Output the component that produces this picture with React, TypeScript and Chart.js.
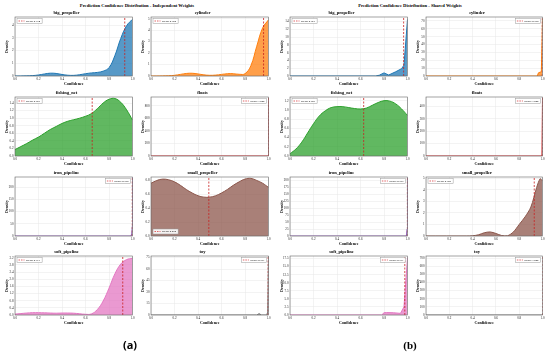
import React, { useEffect, useRef } from "react";
import { Chart, registerables } from "chart.js";

Chart.register(...registerables);

const SERIF = "'Liberation Serif', 'DejaVu Serif', 'Times New Roman', serif";

// ---------- text ----------
const MAIN_TITLES = [
  "Prediction Confidence Distribution - Independent Weights",
  "Prediction Confidence Distribution - Shared Weights",
];
const PANEL_LABELS = ["(a)", "(b)"];
const CLASSES = [
  "big_propeller",
  "cylinder",
  "fishing_net",
  "floats",
  "iron_pipeline",
  "small_propeller",
  "soft_pipeline",
  "toy",
];
const CLASS_COLORS = ["#1f77b4", "#ff7f0e", "#2ca02c", "#d62728", "#9467bd", "#8c564b", "#e377c2", "#7f7f7f"];

// ---------- shared x grid for smooth KDE curves ----------
const X21 = [0, 0.05, 0.1, 0.15, 0.2, 0.25, 0.3, 0.35, 0.4, 0.45, 0.5, 0.55, 0.6, 0.65, 0.7, 0.75, 0.8, 0.85, 0.9, 0.95, 1.0];

// ---------- (a) Independent weights ----------
const indBigPropellerY = [0, 0, 0.01, 0.03, 0.08, 0.16, 0.22, 0.2, 0.12, 0.06, 0.05, 0.1, 0.18, 0.24, 0.28, 0.38, 0.65, 1.6, 2.95, 3.95, 4.45];
const indCylinderY = [0, 0, 0.01, 0.02, 0.06, 0.14, 0.22, 0.24, 0.18, 0.1, 0.06, 0.08, 0.14, 0.2, 0.2, 0.15, 0.2, 0.9, 2.6, 4.2, 4.9];
const indFishingNetY = [0.17, 0.25, 0.33, 0.42, 0.5, 0.6, 0.7, 0.78, 0.86, 0.92, 0.96, 1.0, 1.05, 1.12, 1.25, 1.4, 1.5, 1.52, 1.42, 1.22, 0.95];
const indFloatsX = [0, 0.99, 0.997, 1.0];
const indFloatsY = [0, 0, 5, 930];
const indIronPipelineX = [0, 0.985, 0.993, 0.998, 1.0];
const indIronPipelineY = [0, 0, 8, 40, 240];
const indSmallPropellerY = [0.76, 0.8, 0.82, 0.81, 0.78, 0.73, 0.67, 0.62, 0.58, 0.56, 0.56, 0.58, 0.62, 0.67, 0.73, 0.78, 0.82, 0.83, 0.8, 0.76, 0.7];
const indSoftPipelineY = [0.05, 0.08, 0.11, 0.13, 0.13, 0.12, 0.11, 0.1, 0.11, 0.11, 0.1, 0.07, 0.04, 0.06, 0.3, 0.78, 1.5, 2.3, 2.85, 3.1, 3.17];
const indToyX = [0, 0.9, 0.92, 0.94, 0.985, 0.993, 1.0];
const indToyY = [0, 0, 1.8, 0, 0, 4, 78];
const indMeans = [0.934, 0.958, 0.657, 1.0, 0.998, 0.492, 0.917, 0.997];
const indYMax = [4.63, 5.15, 1.56, 940, 241, 0.85, 3.3, 77];
const indYStep = [1, 1, 0.2, 200, 50, 0.2, 0.4, 15];

// ---------- (b) Shared weights ----------
const shBigPropellerX = [0, 0.73, 0.76, 0.8, 0.84, 0.9, 0.95, 0.97, 1.0];
const shBigPropellerY = [0, 0, 0.2, 0.8, 0.25, 1.1, 1.9, 2.8, 14.6];
const shCylinderX = [0, 0.955, 0.965, 0.99, 1.0];
const shCylinderY = [0, 0, 4, 5.5, 73];
const shFishingNetY = [0.05, 0.15, 0.3, 0.5, 0.7, 0.87, 0.98, 1.05, 1.07, 1.07, 1.05, 1.03, 1.02, 1.04, 1.1, 1.16, 1.2, 1.19, 1.13, 1.02, 0.88];
const shFloatsX = [0, 0.995, 1.0];
const shFloatsY = [0, 0, 470];
const shIronPipelineX = [0, 0.99, 0.996, 1.0];
const shIronPipelineY = [0, 0, 25, 210];
const shSmallPropellerX = [0, 0.35, 0.4, 0.45, 0.5, 0.55, 0.6, 0.65, 0.7, 0.75, 0.8, 0.85, 0.9, 0.95, 0.98, 1.0];
const shSmallPropellerY = [0, 0, 0.02, 0.1, 0.28, 0.35, 0.22, 0.04, 0.02, 0.35, 1.0, 1.65, 2.5, 4.2, 4.95, 4.75];
const shSoftPipelineX = [0, 0.78, 0.8, 0.82, 0.88, 0.94, 0.97, 1.0];
const shSoftPipelineY = [0, 0, 0.7, 0.75, 0.7, 0.5, 2.5, 17.8];
const shToyX = [0, 0.997, 1.0];
const shToyY = [0, 0, 15];
const shMeans = [0.967, 0.998, 0.627, 1.0, 0.999, 0.929, 0.977, 1.0];
const shYMax = [15.2, 75, 1.28, 475, 212, 5.1, 18.3, 725];
const shYStep = [2, 10, 0.2, 100, 25, 1, 2.5, 100];

const CONF_TICK_STEP = 0.2;

type LegendPos = "ul" | "ur" | "ll";
const indLegend: LegendPos[] = ["ul", "ul", "ul", "ur", "ur", "ll", "ul", "ur"];
const shLegend: LegendPos[] = ["ul", "ur", "ul", "ur", "ur", "ul", "ur", "ur"];

const indSeries: [number[], number[], number][] = [
  [X21, indBigPropellerY, 0.4],
  [X21, indCylinderY, 0.4],
  [X21, indFishingNetY, 0.4],
  [indFloatsX, indFloatsY, 0],
  [indIronPipelineX, indIronPipelineY, 0],
  [X21, indSmallPropellerY, 0.4],
  [X21, indSoftPipelineY, 0.4],
  [indToyX, indToyY, 0],
];
const shSeries: [number[], number[], number][] = [
  [shBigPropellerX, shBigPropellerY, 0],
  [shCylinderX, shCylinderY, 0],
  [X21, shFishingNetY, 0.4],
  [shFloatsX, shFloatsY, 0],
  [shIronPipelineX, shIronPipelineY, 0],
  [shSmallPropellerX, shSmallPropellerY, 0.3],
  [shSoftPipelineX, shSoftPipelineY, 0],
  [shToyX, shToyY, 0],
];

// ---------- layout ----------
const COL_LEFT = [15, 151, 290, 426];
const COL_W = [118, 118, 118, 117];
const ROW_TOP = [17, 97, 177, 256];
const PLOT_H = 59;

const YW = 15;
const TH = 10;
const XH = 12;
const RP = 3;

function hexA(hex: string, a: number) {
  const r = parseInt(hex.slice(1, 3), 16);
  const g = parseInt(hex.slice(3, 5), 16);
  const b = parseInt(hex.slice(5, 7), 16);
  return `rgba(${r},${g},${b},${a})`;
}

function decimalsOf(step: number) {
  const s = String(step);
  const i = s.indexOf(".");
  return i < 0 ? 0 : s.length - i - 1;
}

type Spec = {
  title: string;
  color: string;
  xs: number[];
  ys: number[];
  tension: number;
  yMax: number;
  yStep: number;
  mean: number;
  legend: LegendPos;
};

function Sub({ spec, left, top, w }: { spec: Spec; left: number; top: number; w: number }) {
  const ref = useRef<HTMLCanvasElement>(null);
  const W = YW + w + RP;
  const H = TH + PLOT_H + XH;
  useEffect(() => {
    const canvas = ref.current!;
    const data = spec.xs.map((x, i) => ({ x, y: spec.ys[i] }));
    const dec = decimalsOf(spec.yStep);
    const frame = {
      id: "frame",
      afterDatasetsDraw(chart: any) {
        const { ctx, chartArea: a } = chart;
        ctx.save();
        ctx.strokeStyle = "#666";
        ctx.lineWidth = 0.6;
        ctx.strokeRect(a.left, a.top, a.right - a.left, a.bottom - a.top);
        ctx.restore();
      },
    };
    const meanLegend = {
      id: "meanLegend",
      afterDraw(chart: any) {
        const { ctx, chartArea: a } = chart;
        ctx.save();
        ctx.font = `2.8px ${SERIF}`;
        const text = "Mean: " + spec.mean.toFixed(3);
        const tw = ctx.measureText(text).width;
        const bw = tw + 11;
        const bh = 5;
        const x = spec.legend === "ur" ? a.right - 2 - bw : a.left + 2;
        const y = spec.legend === "ll" ? a.bottom - 2 - bh : a.top + 1.5;
        ctx.fillStyle = "rgba(255,255,255,0.9)";
        ctx.fillRect(x, y, bw, bh);
        ctx.strokeStyle = "#999";
        ctx.lineWidth = 0.5;
        ctx.strokeRect(x, y, bw, bh);
        ctx.strokeStyle = "#d62728";
        ctx.setLineDash([1.5, 1]);
        ctx.lineWidth = 0.7;
        ctx.beginPath();
        ctx.moveTo(x + 1.5, y + bh / 2);
        ctx.lineTo(x + 7.5, y + bh / 2);
        ctx.stroke();
        ctx.setLineDash([]);
        ctx.fillStyle = "#000";
        ctx.textBaseline = "middle";
        ctx.fillText(text, x + 9, y + bh / 2 + 0.2);
        ctx.restore();
      },
    };
    const chart = new Chart(canvas, {
      type: "line",
      data: {
        datasets: [
          {
            data,
            borderColor: spec.color,
            backgroundColor: hexA(spec.color, 0.75),
            fill: "origin",
            borderWidth: 1,
            pointRadius: 0,
            tension: spec.tension,
            order: 1,
          },
          {
            data: [
              { x: spec.mean, y: 0 },
              { x: spec.mean, y: spec.yMax },
            ],
            borderColor: "#c82020",
            borderDash: [2, 1.5],
            borderWidth: 0.8,
            pointRadius: 0,
            fill: false,
            order: 0,
          },
        ],
      },
      options: {
        animation: false,
        responsive: false,
        devicePixelRatio: 1,
        events: [],
        layout: { padding: { left: 0, right: RP, top: 0, bottom: 0 } },
        plugins: {
          legend: { display: false },
          tooltip: { enabled: false },
          title: {
            display: true,
            text: spec.title,
            color: "#000",
            font: { family: SERIF, size: 4.5, weight: "bold", lineHeight: 1.2 },
            padding: { top: TH - 4.5 * 1.2 - 1, bottom: 1 },
          },
        },
        scales: {
          x: {
            type: "linear",
            min: 0,
            max: 1,
            ticks: {
              stepSize: CONF_TICK_STEP,
              includeBounds: false,
              autoSkip: false,
              maxRotation: 0,
              padding: 1.5,
              color: "#222",
              font: { family: SERIF, size: 3.2 },
              callback: (v: any) => Number(v).toFixed(1),
            },
            grid: { color: "#e6e6e6", lineWidth: 0.5, drawTicks: false },
            border: { display: false },
            title: {
              display: true,
              text: "Confidence",
              color: "#000",
              font: { family: SERIF, size: 4, weight: "bold", lineHeight: 1.2 },
              padding: { top: 0, bottom: 1.2 },
            },
            afterFit: (s: any) => {
              s.height = XH;
            },
          },
          y: {
            type: "linear",
            min: 0,
            max: spec.yMax,
            ticks: {
              stepSize: spec.yStep,
              includeBounds: false,
              autoSkip: false,
              padding: 1.5,
              color: "#222",
              font: { family: SERIF, size: 3.2 },
              callback: (v: any) => Number(v).toFixed(dec),
            },
            grid: { color: "#e6e6e6", lineWidth: 0.5, drawTicks: false },
            border: { display: false },
            title: {
              display: true,
              text: "Density",
              color: "#000",
              font: { family: SERIF, size: 4, weight: "bold", lineHeight: 1.2 },
              padding: { top: 4.6, bottom: 0 },
            },
            afterFit: (s: any) => {
              s.width = YW;
            },
          },
        },
      } as any,
      plugins: [frame, meanLegend],
    });
    return () => chart.destroy();
  }, []);
  return (
    <canvas
      ref={ref}
      width={W}
      height={H}
      style={{ position: "absolute", left: left - YW, top: top - TH, width: W, height: H }}
    />
  );
}

function buildSpecs(series: [number[], number[], number][], means: number[], yMax: number[], yStep: number[], legend: LegendPos[]): Spec[] {
  return CLASSES.map((c, i) => ({
    title: c,
    color: CLASS_COLORS[i],
    xs: series[i][0],
    ys: series[i][1],
    tension: series[i][2],
    yMax: yMax[i],
    yStep: yStep[i],
    mean: means[i],
    legend: legend[i],
  }));
}

export default function App() {
  const panels = [
    buildSpecs(indSeries, indMeans, indYMax, indYStep, indLegend),
    buildSpecs(shSeries, shMeans, shYMax, shYStep, shLegend),
  ];
  const titleCenters = [137, 410];
  const labelCenters = [130, 410];
  return (
    <div style={{ position: "fixed", left: 0, top: 0, width: 550, height: 354, background: "#fff", overflow: "hidden" }}>
      {panels.map((specs, p) => (
        <React.Fragment key={p}>
          <div
            style={{
              position: "absolute",
              left: titleCenters[p] - 100,
              width: 200,
              top: 3,
              textAlign: "center",
              fontFamily: SERIF,
              fontWeight: "bold",
              fontSize: 4.6,
              lineHeight: "6px",
              color: "#000",
              whiteSpace: "nowrap",
            }}
          >
            {MAIN_TITLES[p]}
          </div>
          {specs.map((s, i) => (
            <Sub key={i} spec={s} left={COL_LEFT[p * 2 + (i % 2)]} top={ROW_TOP[Math.floor(i / 2)]} w={COL_W[p * 2 + (i % 2)]} />
          ))}
          <div
            style={{
              position: "absolute",
              left: labelCenters[p] - 20,
              width: 40,
              top: 338,
              textAlign: "center",
              fontFamily: p === 0 ? "'Open Sans', 'Noto Sans', sans-serif" : SERIF,
              fontWeight: "bold",
              fontSize: 11,
              lineHeight: "14px",
              color: "#000",
            }}
          >
            {PANEL_LABELS[p]}
          </div>
        </React.Fragment>
      ))}
    </div>
  );
}
